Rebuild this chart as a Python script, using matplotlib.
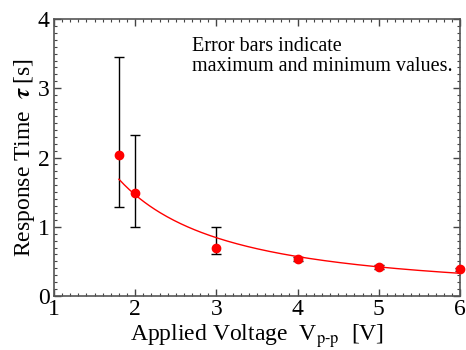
import numpy as np
import matplotlib
matplotlib.use("Agg")
import matplotlib.pyplot as plt
from matplotlib.ticker import MultipleLocator

voltage = [1.8, 2.0, 3.0, 4.0, 5.0, 6.0]
tau_mean = [2.03, 1.49, 0.69, 0.53, 0.42, 0.385]
tau_max = [3.45, 2.33, 0.99, 0.56, 0.45, 0.41]
tau_min = [1.29, 1.00, 0.61, 0.50, 0.39, 0.36]
fit_a = 3.75
fit_b = -1.36

plt.rcParams['font.family'] = ['Liberation Serif', 'DejaVu Serif']
plt.rcParams['mathtext.fontset'] = 'stix'

fig = plt.figure(figsize=(4.66, 3.5), dpi=100)
ax = fig.add_axes([54/466, 1-296/350, (460-54)/466, (296-19)/350])

v = np.array(voltage)
m = np.array(tau_mean)
yerr = [m - np.array(tau_min), np.array(tau_max) - m]
ax.errorbar(v, m, yerr=yerr, fmt='none', ecolor='black', elinewidth=1.0,
            capsize=3.5, capthick=1.0, zorder=2)
xf = np.linspace(1.8, 6.0, 200)
ax.plot(xf, fit_a * xf ** fit_b, color='red', lw=1.0, zorder=3)
ax.plot(v, m, 'o', color='red', ms=6, zorder=4, clip_on=False)

ax.set_xlim(1, 6)
ax.set_ylim(0, 4)
ax.xaxis.set_major_locator(MultipleLocator(1))
ax.xaxis.set_minor_locator(MultipleLocator(0.1))
ax.yaxis.set_major_locator(MultipleLocator(1))
ax.yaxis.set_minor_locator(MultipleLocator(0.1))
ax.tick_params(which='both', direction='in', top=True, right=True,
               color='#444444', labelsize=17)
ax.tick_params(axis='x', pad=2)
ax.tick_params(axis='y', pad=3)
ax.tick_params(which='major', length=5, width=1)
ax.tick_params(which='minor', length=2.5, width=0.8)
for s in ax.spines.values():
    s.set_color('#555555')
    s.set_linewidth(1.2)

ax.set_xlabel(r'Applied Voltage  V$_{\rm p\text{-}p}$  [V]', fontsize=17, labelpad=2)
ax.set_ylabel(r'Response Time  $\boldsymbol{\tau}$ [s]', fontsize=17, labelpad=1)

ax.text(0.340, 0.935, 'Error bars indicate\nmaximum and minimum values.',
        transform=ax.transAxes, fontsize=14.5, va='top', ha='left', linespacing=1.05)

fig.savefig('out.png', dpi=100)
